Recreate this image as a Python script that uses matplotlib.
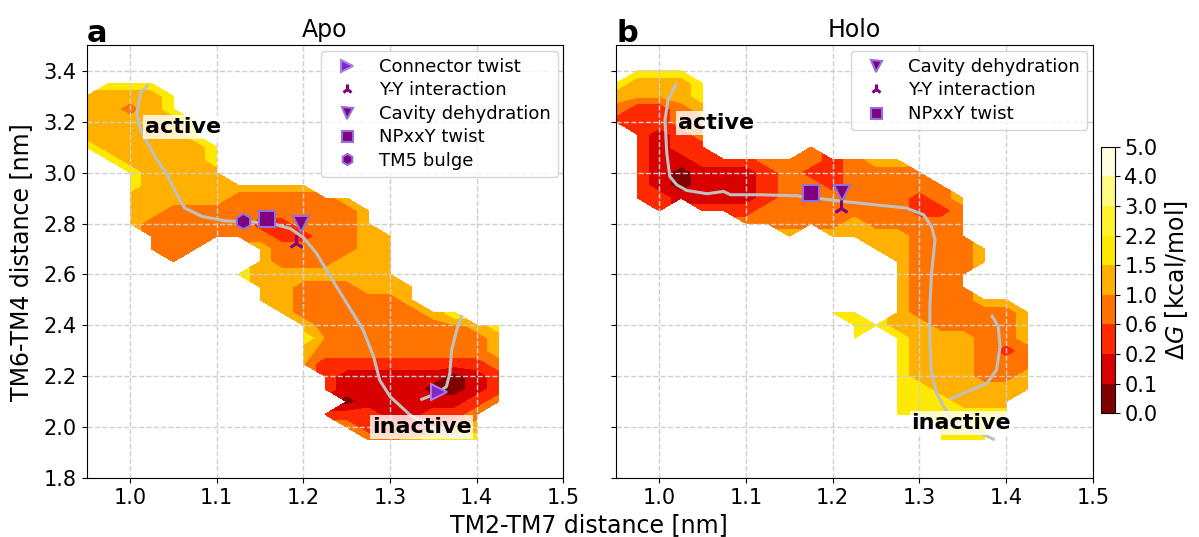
import numpy as np
import matplotlib
matplotlib.use("Agg")
import matplotlib.pyplot as plt

# ---------------- data ----------------
LEVELS = [0.0, 0.1, 0.2, 0.6, 1.0, 1.5, 2.2, 3.0, 4.0, 5.0]
LEVEL_COLORS = ['#800000', '#d90000', '#ff2900', '#ff7300', '#ffb000',
                '#ffe900', '#fff22a', '#fffa82', '#ffffe0']
LEVEL_LABELS = ['0.0', '0.1', '0.2', '0.6', '1.0', '1.5', '2.2', '3.0', '4.0', '5.0']

X_NODES = [0.950, 0.975, 1.000, 1.025, 1.050, 1.075, 1.100, 1.125, 1.150, 1.175, 1.200,
           1.225, 1.250, 1.275, 1.300, 1.325, 1.350, 1.375, 1.400, 1.425, 1.450, 1.475]
Y_NODES = [3.40, 3.35, 3.30, 3.25, 3.20, 3.15, 3.10, 3.05, 3.00, 2.95, 2.90,
           2.85, 2.80, 2.75, 2.70, 2.65, 2.60, 2.55, 2.50, 2.45, 2.40,
           2.35, 2.30, 2.25, 2.20, 2.15, 2.10, 2.05, 2.00, 1.95, 1.90]

# representative free energy (kcal/mol) of each read-off band; '.' = no data
BAND_VALUE = {'0': 0.05, '1': 0.15, '2': 0.25, '3': 0.95, '4': 1.05,
              '5': 1.95, '6': 2.45, '7': 3.55, '8': 4.45}

# rows from y = 3.40 (top) to 1.90 (bottom); columns from x = 0.95 to 1.475
APO_ROWS = [
    "",
    ".555",
    "44445",
    "44345",
    "444445",
    "444445",
    "5444445",
    ".544445",
    "..54444",
    "..544444444",
    "..44444333334",
    "..443333333334",
    "..433333223334",
    "...333333223344",
    "...333..4333344",
    "....3...4333444",
    ".......54444444",
    "........44333444",
    "........44333334",
    ".........433333345",
    "..........4333333345",
    "..........5333333334",
    "..........4333333334",
    "..........4222222223",
    "...........211111012",
    "...........211110012",
    "..........2.01111123",
    "...........22211223",
    "............3222234",
    ".............334555",
    "",
]

HOLO_ROWS = [
    ".555",
    "54445",
    "44445",
    "32234",
    "22233",
    ".2123",
    ".2122....3",
    ".2112223332344",
    ".21011123223333",
    ".210111233233333",
    ".2211112333333234",
    "..2.2223333333223",
    "......33333433333",
    "........4.4444333",
    "............443334",
    ".............43334",
    ".............4333",
    ".............4333",
    ".............433344",
    "..........55.4333334",
    "...........554433334",
    "...........5.5444334",
    ".............5444323",
    ".............5444333",
    ".............5444334",
    ".............5544444",
    ".............555444",
    ".............555555",
    "...............555",
    "...............555",
    "",
]

# transition paths
APO_PATH_X = [1.021, 1.012, 1.008, 1.012, 1.029, 1.044, 1.054, 1.063, 1.083, 1.110, 1.129,
              1.163, 1.185, 1.200, 1.215, 1.231, 1.250, 1.269, 1.281, 1.288, 1.300, 1.323,
              1.346, 1.365, 1.389]
APO_PATH_Y = [3.345, 3.313, 3.234, 3.168, 3.063, 2.985, 2.913, 2.861, 2.828, 2.810, 2.808,
              2.801, 2.780, 2.745, 2.684, 2.592, 2.487, 2.382, 2.277, 2.185, 2.120, 2.048,
              2.002, 1.975, 1.956]
APO_PATH2_X = [1.335, 1.354, 1.365, 1.369, 1.371, 1.377, 1.383]
APO_PATH2_Y = [2.107, 2.133, 2.159, 2.212, 2.303, 2.382, 2.441]

HOLO_PATH_X = [1.020, 1.010, 1.0065, 1.0085, 1.012, 1.020, 1.0315, 1.055, 1.074, 1.082, 1.116,
               1.158, 1.212, 1.247, 1.285, 1.305, 1.314, 1.318, 1.314, 1.312, 1.312, 1.314,
               1.320, 1.328, 1.339, 1.362, 1.387]
HOLO_PATH_Y = [3.352, 3.286, 3.208, 3.077, 2.985, 2.952, 2.930, 2.917, 2.926, 2.913, 2.913,
               2.909, 2.887, 2.874, 2.861, 2.834, 2.788, 2.736, 2.605, 2.474, 2.343, 2.212,
               2.133, 2.080, 2.028, 1.989, 1.950]
HOLO_PATH2_X = [1.335, 1.355, 1.378, 1.389, 1.393, 1.391, 1.383]
HOLO_PATH2_Y = [2.109, 2.139, 2.172, 2.225, 2.316, 2.395, 2.441]

# events: (label, marker, x, y)
APO_EVENTS = [("Connector twist", ">", 1.356, 2.139),
              ("Y-Y interaction", "2", 1.192, 2.723),
              ("Cavity dehydration", "v", 1.197, 2.799),
              ("NPxxY twist", "s", 1.158, 2.817),
              ("TM5 bulge", "h", 1.130, 2.808)]
HOLO_EVENTS = [("Cavity dehydration", "v", 1.211, 2.921),
               ("Y-Y interaction", "2", 1.210, 2.860),
               ("NPxxY twist", "s", 1.175, 2.919)]

APO_LABELS = [("active", 1.017, 3.180), ("inactive", 1.279, 2.000)]
HOLO_LABELS = [("active", 1.0215, 3.196), ("inactive", 1.291, 2.016)]

X_TICKS = [1.0, 1.1, 1.2, 1.3, 1.4, 1.5]
Y_TICKS = [1.8, 2.0, 2.2, 2.4, 2.6, 2.8, 3.0, 3.2, 3.4]


def grid_from_rows(rows):
    nx = len(X_NODES)
    z = np.full((len(Y_NODES), nx), np.nan)
    for i, row in enumerate(rows):
        row = row.ljust(nx, '.')
        for j, ch in enumerate(row[:nx]):
            if ch in BAND_VALUE:
                z[i, j] = BAND_VALUE[ch]
    return z


fig = plt.figure(figsize=(11.99, 5.37), dpi=100)
ax1 = fig.add_axes([0.0723, 0.1099, 0.3976, 0.8056])
ax2 = fig.add_axes([0.5138, 0.1099, 0.3976, 0.8056])
cax = fig.add_axes([0.9185, 0.2304, 0.0112, 0.4965])

XX, YY = np.meshgrid(X_NODES, Y_NODES)

panels = [
    (ax1, APO_ROWS, APO_PATH_X, APO_PATH_Y, APO_PATH2_X, APO_PATH2_Y, APO_EVENTS, APO_LABELS, "Apo", "a"),
    (ax2, HOLO_ROWS, HOLO_PATH_X, HOLO_PATH_Y, HOLO_PATH2_X, HOLO_PATH2_Y, HOLO_EVENTS, HOLO_LABELS, "Holo", "b"),
]

cf = None
for ax, rows, px, py, px2, py2, events, labels, title, letter in panels:
    Z = np.ma.masked_invalid(grid_from_rows(rows))
    cf = ax.contourf(XX, YY, Z, levels=LEVELS, colors=LEVEL_COLORS, zorder=1)
    ax.grid(True, linestyle='--', color='#cfcfcf', linewidth=1.0, zorder=1.5)
    ax.plot(px, py, color='#c0c0c0', lw=2.2, zorder=3, solid_capstyle='butt')
    ax.plot(px2, py2, color='#c0c0c0', lw=2.2, zorder=3, solid_capstyle='butt')
    for lab, mk, x, y in events:
        if mk == '2':
            ax.plot([x], [y], ls='none', marker=mk, ms=11, mew=2.2, color='purple',
                    label=lab, zorder=4)
        elif mk == '>':
            ax.plot([x], [y], ls='none', marker=mk, ms=12, mew=1.5, color='#8126c4',
                    mec='#a47ee6', label=lab, zorder=4)
        else:
            ax.plot([x], [y], ls='none', marker=mk, ms=11, mew=1.5, color='purple',
                    mec='mediumpurple', label=lab, zorder=4)
    for txt, x, y in labels:
        ax.text(x, y, txt, fontsize=16, fontweight='bold', ha='left', va='center', zorder=5,
                bbox=dict(facecolor='white', alpha=0.8, edgecolor='none', pad=1.5))
    ax.set_xlim(0.95, 1.5)
    ax.set_ylim(1.8, 3.5)
    ax.set_xticks(X_TICKS)
    ax.set_yticks(Y_TICKS)
    ax.tick_params(labelsize=15)
    ax.set_title(title, fontsize=17)
    ax.text(0.0, 1.007, letter, transform=ax.transAxes, fontsize=22, fontweight='bold',
            ha='left', va='baseline')
    ax.legend(loc='upper right', fontsize=13, labelspacing=0.3, borderaxespad=0.3,
              handletextpad=0.8, markerscale=0.72)

ax1.set_ylabel('TM6-TM4 distance [nm]', fontsize=17, labelpad=8)
ax2.tick_params(labelleft=False)
fig.text(0.4915, 0.022, 'TM2-TM7 distance [nm]', fontsize=17, ha='center', va='center')

cb = fig.colorbar(cf, cax=cax, ticks=LEVELS)
cb.ax.set_yticklabels(LEVEL_LABELS)
cb.ax.tick_params(labelsize=15)
cb.set_label(r'$\Delta G$ [kcal/mol]', fontsize=17)

fig.savefig('out.png', dpi=100)
